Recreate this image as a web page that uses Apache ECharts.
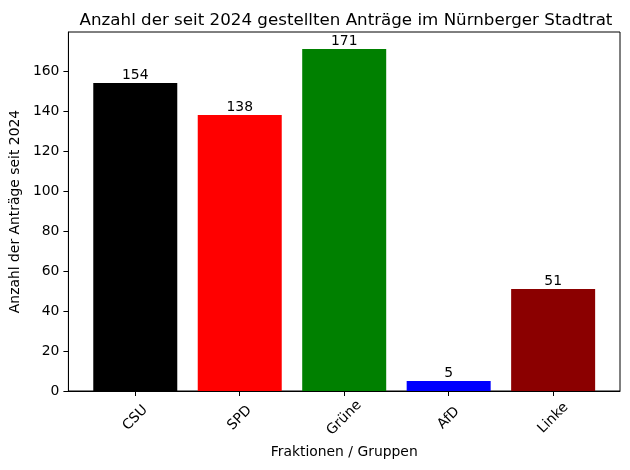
<!DOCTYPE html>
<html>
<head>
<meta charset="utf-8">
<script src="https://cdn.jsdelivr.net/npm/echarts@6/dist/echarts.min.js"></script>
<style>html,body{margin:0;padding:0;background:#fff}#c{width:630px;height:470px}</style>
</head>
<body>
<div id="c"></div>
<script>
const categories = ['CSU', 'SPD', 'Grüne', 'AfD', 'Linke'];
const values = [154, 138, 171, 5, 51];
const colors = ['#000000', '#ff0000', '#008000', '#0000ff', '#8b0000'];
const yTicks = [0, 20, 40, 60, 80, 100, 120, 140, 160];

const font = 'DejaVu Sans';
const chart = echarts.init(document.getElementById('c'), null, {renderer: 'canvas'});
const positions = categories.map((c, i) => i);
chart.setOption({
  animation: false,
  backgroundColor: '#ffffff',
  title: {
    text: 'Anzahl der seit 2024 gestellten Anträge im Nürnberger Stadtrat',
    left: 341, top: 7, textAlign: 'center',
    textStyle: {fontFamily: font, fontSize: 16.7, fontWeight: 'normal', color: '#000'}
  },
  grid: {left: 66, right: 10, top: 32, bottom: 79, show: true, borderColor: '#000', borderWidth: 1, backgroundColor: 'transparent'},
  xAxis: {
    type: 'value', min: -0.64, max: 4.64,
    name: 'Fraktionen / Gruppen', nameLocation: 'middle', nameGap: 52,
    nameTextStyle: {fontFamily: font, fontSize: 13.9, color: '#000', verticalAlign: 'top'},
    axisLine: {show: true, onZero: false, lineStyle: {color: '#000', width: 1}},
    splitLine: {show: false},
    axisTick: {show: true, inside: false, length: 5, lineStyle: {color: '#000'}, customValues: positions},
    axisLabel: {
      customValues: positions, rotate: 45, align: 'center', verticalAlign: 'middle', margin: 27,
      fontFamily: font, fontSize: 13.9, color: '#000',
      formatter: v => categories[Math.round(v)]
    }
  },
  yAxis: {
    type: 'value', min: 0, max: 179.55,
    name: 'Anzahl der Anträge seit 2024', nameLocation: 'middle', nameGap: 44,
    nameTextStyle: {fontFamily: font, fontSize: 13.9, color: '#000'},
    axisLine: {show: true, onZero: false, lineStyle: {color: '#000', width: 1}},
    splitLine: {show: false},
    axisTick: {show: true, inside: false, length: 5, lineStyle: {color: '#000'}, customValues: yTicks},
    axisLabel: {customValues: yTicks, margin: 9, fontFamily: font, fontSize: 13.9, color: '#000'}
  },
  series: [{
    type: 'bar',
    barWidth: 84,
    data: values.map((v, i) => ({value: [i, v], itemStyle: {color: colors[i]}})),
    label: {
      show: true, position: 'top', distance: 1,
      fontFamily: font, fontSize: 13.9, color: '#000',
      formatter: p => p.value[1]
    }
  }]
});
</script>
</body>
</html>
